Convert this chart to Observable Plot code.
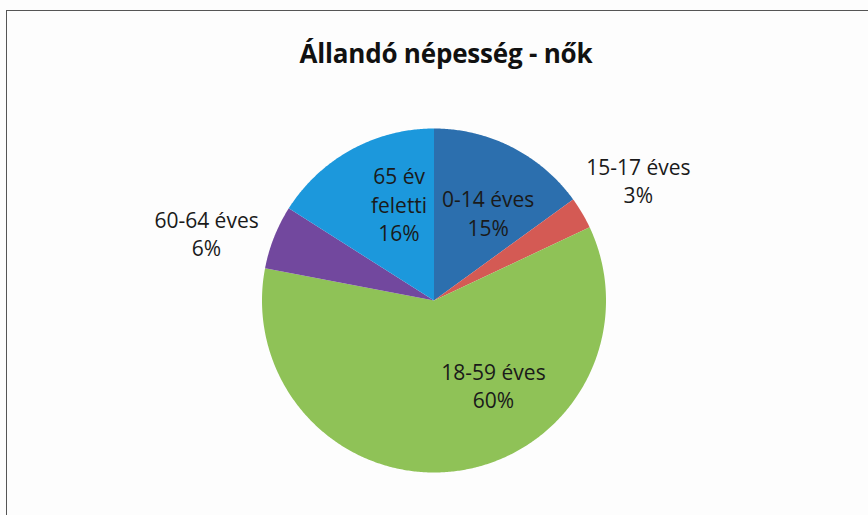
<!DOCTYPE html>
<html>
<head>
<meta charset="utf-8">
<script src="https://cdn.jsdelivr.net/npm/d3@7"></script>
<script src="https://cdn.jsdelivr.net/npm/@observablehq/plot@0.6"></script>
<style>
  html, body { margin: 0; padding: 0; background: #fff; }
  #wrap { position: relative; width: 868px; height: 515px; overflow: hidden; background: #fdfdfd; font-family: "Open Sans", sans-serif; }
  #frame { position: absolute; left: 6px; top: 10px; width: 900px; height: 600px; border: 1.5px solid #555; box-sizing: border-box; }
  #title { position: absolute; left: 0; top: 40px; width: 892px; text-align: center; font-size: 26px; font-weight: 700; color: #111; line-height: 1; letter-spacing: -0.2px; }
  #chart { position: absolute; left: 0; top: 0; }
</style>
</head>
<body>
<div id="wrap">
  <div id="frame"></div>
  <div id="title">Állandó népesség - nők</div>
  <div id="chart"></div>
</div>
<script>
// Data
const categories = ["0-14 éves", "15-17 éves", "18-59 éves", "60-64 éves", "65 év feletti"];
const labelTexts = ["0-14 éves", "15-17 éves", "18-59 éves", "60-64 éves", "65 év\nfeletti"];
const values = [15, 3, 60, 6, 16];
const colors = ["#2c6fae", "#d45a54", "#8fc257", "#72489e", "#1c98dc"];

// Layout (label placement, Excel "best fit" style)
const insideRadius = 0.6, outsideRadius = 1.38;
const labelOutside = [false, true, false, true, false];
const labelAngleShift = [4.6, 0, -28, -5, 9]; // degrees

const total = d3.sum(values);
const pie = d3.pie().sort(null).value(d => d.value)(
  categories.map((c, i) => ({ category: c, value: values[i], i }))
);

// Polygon points for each wedge (geometry only)
const pts = [];
for (const a of pie) {
  pts.push({ category: a.data.category, x: 0, y: 0 });
  const n = Math.max(2, Math.ceil((a.endAngle - a.startAngle) / (Math.PI / 360)));
  for (let k = 0; k <= n; k++) {
    const t = a.startAngle + (a.endAngle - a.startAngle) * k / n;
    pts.push({ category: a.data.category, x: Math.sin(t), y: Math.cos(t) });
  }
}

const labels = pie.map(a => {
  const i = a.data.i;
  const mid = (a.startAngle + a.endAngle) / 2 + labelAngleShift[i] * Math.PI / 180;
  const r = labelOutside[i] ? outsideRadius : insideRadius;
  return {
    x: r * Math.sin(mid),
    y: r * Math.cos(mid),
    text: labelTexts[i] + "\n" + Math.round(a.data.value / total * 100) + "%"
  };
});

const cx = 433.5, cy = 300, R = 172;
const W = 868, H = 515;

const chart = Plot.plot({
  width: W,
  height: H,
  marginLeft: cx - R,
  marginRight: W - (cx + R),
  marginTop: cy - R,
  marginBottom: H - (cy + R),
  x: { domain: [-1, 1], axis: null },
  y: { domain: [-1, 1], axis: null },
  color: { domain: categories, range: colors },
  style: { background: "transparent", fontFamily: "Open Sans, sans-serif", overflow: "visible" },
  marks: [
    Plot.line(pts, { x: "x", y: "y", z: "category", fill: "category", stroke: "none", curve: "linear" }),
    Plot.text(labels, { x: "x", y: "y", text: "text", fontSize: 21, lineHeight: 1.37, fill: "#1a1a1a", textAnchor: "middle" })
  ]
});
document.getElementById("chart").appendChild(chart);
</script>
</body>
</html>
